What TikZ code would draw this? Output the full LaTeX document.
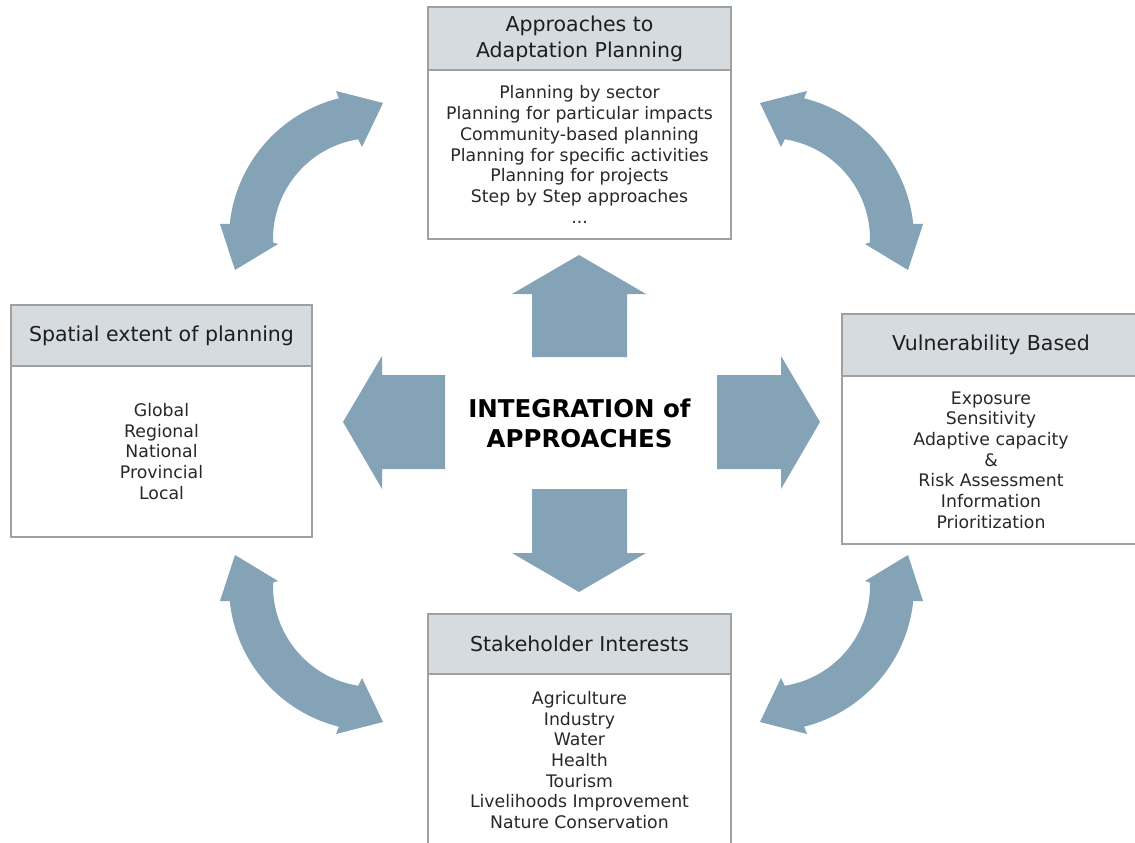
\documentclass[tikz,border=0pt]{standalone}
\usepackage{fontspec}
\setmainfont{DejaVu Sans}
\definecolor{arrowblue}{RGB}{132,163,183}
\definecolor{hdrfill}{RGB}{214,219,224}
\definecolor{boxgray}{RGB}{160,160,160}
\definecolor{hdrtext}{RGB}{30,30,30}
\definecolor{bodytext}{RGB}{40,40,40}
\newcommand\mybendarrow{%
  \fill[arrowblue] (338.9,-98.3) arc[start angle=104, end angle=174, radius=145]
    -- (220,-224) -- (235,-270) -- (278,-244) -- (273.06,-242.52)
    arc[start angle=182, end angle=99, radius=101]
    -- (362,-147) -- (383,-103) -- (336,-91) -- cycle;}
\begin{document}
\begin{tikzpicture}[x=1pt,y=1pt,
  hdr/.style={draw=boxgray, line width=1.2pt, fill=hdrfill, inner sep=0pt, align=center,
    text=hdrtext, font=\fontsize{20.5}{26}\selectfont},
  bodybox/.style={draw=boxgray, line width=1.2pt, fill=white, inner sep=0pt, align=center,
    text=bodytext, font=\fontsize{17.3}{20.7}\selectfont},
  blockarrow/.style={fill=arrowblue, draw=none}
]
\useasboundingbox (0,0) rectangle (1135,-843);
\clip (0,0) rectangle (1135,-843);
\fill[white] (0,0) rectangle (1135,-843);

% curved double arrows
\mybendarrow
\begin{scope}[xshift=1143pt, xscale=-1] \mybendarrow \end{scope}
\begin{scope}[yshift=-825pt, yscale=-1] \mybendarrow \end{scope}
\begin{scope}[xshift=1143pt, yshift=-825pt, xscale=-1, yscale=-1] \mybendarrow \end{scope}

% central block arrows
\fill[blockarrow] (532,-357) -- (532,-294) -- (512,-294) -- (579,-255) -- (646,-294) -- (627,-294) -- (627,-357) -- cycle;
\fill[blockarrow] (532,-489) -- (627,-489) -- (627,-553) -- (646,-553) -- (579,-592) -- (512,-553) -- (532,-553) -- cycle;
\fill[blockarrow] (445,-375) -- (382,-375) -- (382,-356) -- (343,-422) -- (382,-489) -- (382,-469) -- (445,-469) -- cycle;
\fill[blockarrow] (717,-375) -- (781,-375) -- (781,-356) -- (820,-422) -- (781,-489) -- (781,-469) -- (717,-469) -- cycle;

\node[font=\bfseries\fontsize{24.5}{30}\selectfont, align=center, text=black, inner sep=0pt] (center) at (579.5,-423) {INTEGRATION of\\APPROACHES};

% top box
\node[hdr, minimum width=303pt, minimum height=63pt] (tophdr) at (579.5,-38.5) {Approaches to\\Adaptation Planning};
\node[bodybox, minimum width=303pt, minimum height=169pt] (topbody) at (579.5,-154.5) {Planning by sector\\Planning for particular impacts\\Community-based planning\\Planning for specific activities\\Planning for projects\\Step by Step approaches\\...};

% left box
\node[hdr, minimum width=301pt, minimum height=61pt] (lefthdr) at (161.5,-335.5) {Spatial extent of planning};
\node[bodybox, minimum width=301pt, minimum height=171pt] (leftbody) at (161.5,-451.5) {Global\\Regional\\National\\Provincial\\Local};

% right box
\node[hdr, minimum width=298pt, minimum height=62pt] (righthdr) at (991,-345) {Vulnerability Based};
\node[bodybox, minimum width=298pt, minimum height=168pt] (rightbody) at (991,-460) {Exposure\\Sensitivity\\Adaptive capacity\\\&\\Risk Assessment\\Information\\Prioritization};

% bottom box
\node[hdr, minimum width=303pt, minimum height=60pt] (bothdr) at (579.5,-644) {Stakeholder Interests};
\node[bodybox, minimum width=303pt, minimum height=172pt] (botbody) at (579.5,-760) {Agriculture\\Industry\\Water\\Health\\Tourism\\Livelihoods Improvement\\Nature Conservation};
\end{tikzpicture}
\end{document}
